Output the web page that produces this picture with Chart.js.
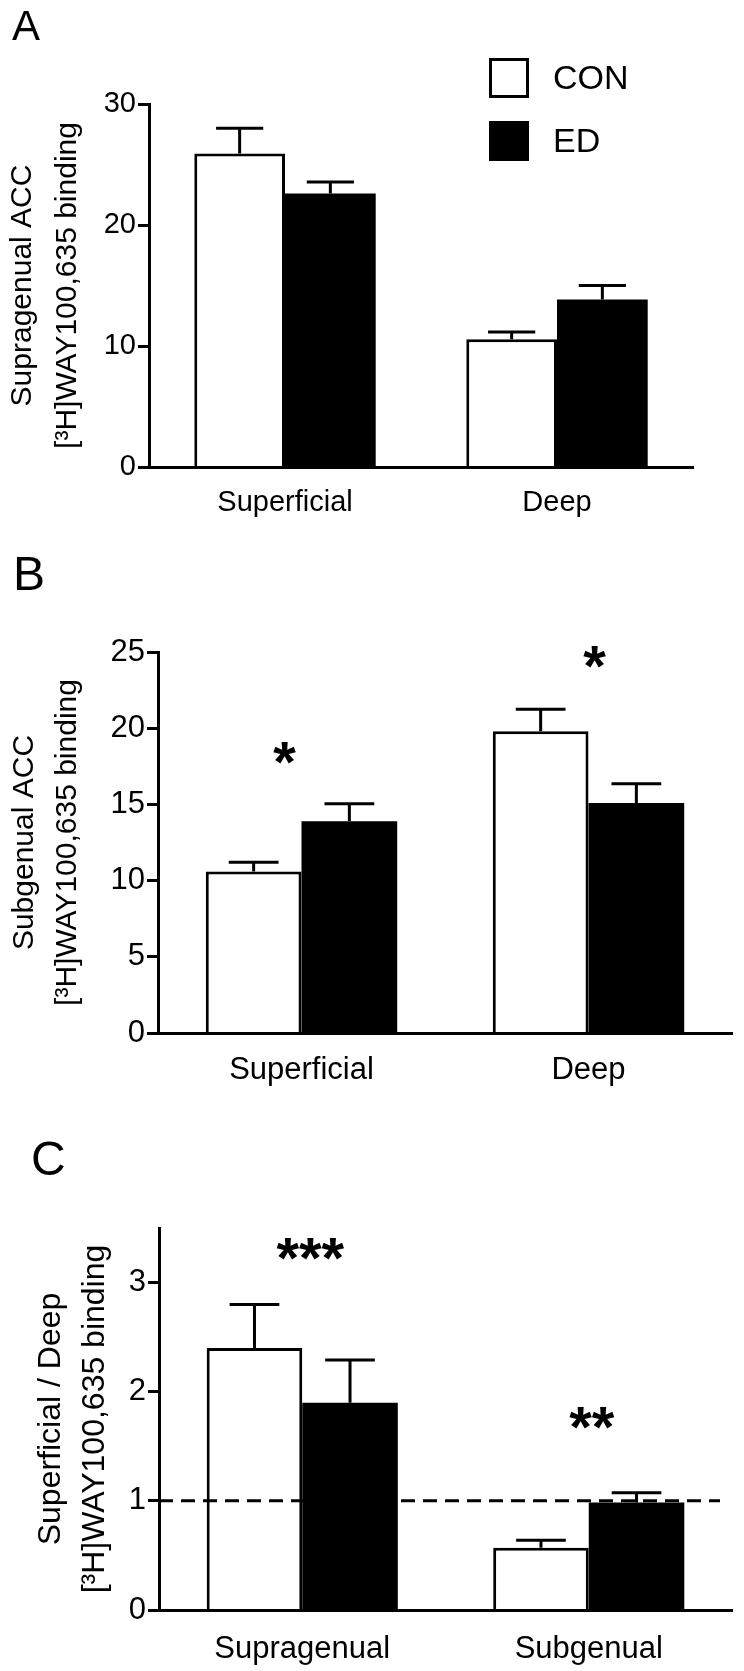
<!DOCTYPE html>
<html>
<head>
<meta charset="utf-8">
<script src="https://cdn.jsdelivr.net/npm/chart.js@4.4.1/dist/chart.umd.min.js"></script>
<style>
  body { margin: 0; background: #ffffff; }
  canvas.panel { position: absolute; left: 0; }
</style>
</head>
<body>
<canvas id="chartA" class="panel" width="744" height="540" style="top:0px"></canvas>
<canvas id="chartB" class="panel" width="744" height="560" style="top:540px"></canvas>
<canvas id="chartC" class="panel" width="744" height="571" style="top:1100px"></canvas>
<script>
var seriesNames = ["CON", "ED"];
var layers = ["Superficial", "Deep"];
var regions = ["Supragenual", "Subgenual"];

// A: supragenual ACC
var conA = [25.9, 10.55];
var conErrA = [2.1, 0.6];
var edA = [22.6, 13.85];
var edErrA = [0.95, 1.15];
var yTicksA = [0, 10, 20, 30];

// B: subgenual ACC
var conB = [10.6, 19.8];
var conErrB = [0.6, 1.45];
var edB = [13.9, 15.1];
var edErrB = [1.15, 1.25];
var yTicksB = [0, 5, 10, 15, 20, 25];
var starsB = ["*", "*"];
var starLevelB = [18.4, 24.7];

// C: superficial / deep ratio
var conC = [2.4, 0.57];
var conErrC = [0.4, 0.07];
var edC = [1.9, 0.985];
var edErrC = [0.39, 0.09];
var yTicksC = [0, 1, 2, 3];
var starsC = ["***", "**"];
var starLevelC = [3.31, 1.76];
var refLineC = 1;

var fontFamily = "'Liberation Sans', Arial, Helvetica, sans-serif";
Chart.defaults.font.family = fontFamily;
Chart.defaults.color = "#000000";

// error bars (upper only), drawn from the bar tops through the y scale
var errorBars = {
  id: "errorBars",
  afterDatasetsDraw: function (chart) {
    var ctx = chart.ctx, y = chart.scales.y;
    ctx.save();
    ctx.strokeStyle = "#000000";
    ctx.lineWidth = 3;
    chart.data.datasets.forEach(function (ds, i) {
      chart.getDatasetMeta(i).data.forEach(function (bar, j) {
        var top = y.getPixelForValue(ds.data[j] + ds.errors[j]);
        var half = bar.width * 0.26;
        ctx.beginPath();
        ctx.moveTo(bar.x, bar.y);
        ctx.lineTo(bar.x, top);
        ctx.moveTo(bar.x - half, top);
        ctx.lineTo(bar.x + half, top);
        ctx.stroke();
      });
    });
    ctx.restore();
  }
};

// dashed reference line, significance stars, panel letter, legend
var extras = {
  id: "extras",
  afterDraw: function (chart, args, opts) {
    var ctx = chart.ctx, x = chart.scales.x, y = chart.scales.y, area = chart.chartArea;
    ctx.save();
    if (opts.refLine !== undefined) {
      var ry = y.getPixelForValue(opts.refLine);
      ctx.strokeStyle = "#000000";
      ctx.lineWidth = 3;
      ctx.setLineDash([14, 8]);
      ctx.beginPath();
      ctx.moveTo(area.left, ry);
      ctx.lineTo(area.right - 12, ry);
      ctx.stroke();
      ctx.setLineDash([]);
    }
    if (opts.stars) {
      ctx.fillStyle = "#000000";
      ctx.font = "bold 58px " + fontFamily;
      ctx.textAlign = "center";
      ctx.textBaseline = "alphabetic";
      opts.stars.forEach(function (s, i) {
        var m = ctx.measureText(s);
        var cy = y.getPixelForValue(opts.levels[i]);
        var cx = x.getPixelForValue(i) + opts.shift[i];
        ctx.fillText(s, cx, cy + (m.actualBoundingBoxAscent - m.actualBoundingBoxDescent) / 2);
      });
    }
    if (opts.letter) {
      ctx.fillStyle = "#000000";
      ctx.textAlign = "left";
      ctx.textBaseline = "alphabetic";
      ctx.font = opts.letter.size + "px " + fontFamily;
      ctx.fillText(opts.letter.text, opts.letter.x, opts.letter.y);
    }
    if (opts.legend) {
      var lg = opts.legend;
      ctx.font = lg.size + "px " + fontFamily;
      ctx.textAlign = "left";
      ctx.textBaseline = "middle";
      chart.data.datasets.forEach(function (ds, i) {
        var top = lg.top + i * lg.step;
        ctx.fillStyle = ds.backgroundColor;
        ctx.fillRect(lg.left, top, lg.box, lg.box);
        ctx.strokeStyle = ds.borderColor;
        ctx.lineWidth = 3;
        ctx.strokeRect(lg.left + 1.5, top + 1.5, lg.box - 3, lg.box - 3);
        ctx.fillStyle = "#000000";
        ctx.fillText(ds.label, lg.left + lg.box + lg.gap, top + lg.box / 2 + 2);
      });
    }
    ctx.restore();
  }
};

function buildPanel(id, p) {
  return new Chart(document.getElementById(id), {
    type: "bar",
    data: {
      labels: p.labels,
      datasets: [
        { label: seriesNames[0], data: p.con, errors: p.conErr, backgroundColor: "#ffffff", borderColor: "#000000", borderWidth: 3 },
        { label: seriesNames[1], data: p.ed, errors: p.edErr, backgroundColor: "#000000", borderColor: "#000000", borderWidth: 0 }
      ]
    },
    options: {
      responsive: false,
      animation: false,
      devicePixelRatio: 1,
      categoryPercentage: 0.667,
      barPercentage: 1.0,
      layout: { padding: p.padding },
      plugins: {
        legend: { display: false },
        tooltip: { enabled: false },
        extras: p.extras
      },
      scales: {
        x: {
          grid: { display: false },
          border: { display: true, color: "#000000", width: 3, z: 1 },
          ticks: { font: { size: p.xFont }, padding: p.xPad, color: "#000000" },
          afterFit: function (scale) { scale.height = p.xHeight; }
        },
        y: {
          min: 0,
          max: p.max,
          grid: { display: true, drawOnChartArea: false, drawTicks: true, tickLength: 11, tickWidth: 3, tickColor: "#000000" },
          border: { display: true, color: "#000000", width: 3, z: 1 },
          ticks: { font: { size: p.yFont }, padding: 2, color: "#000000" },
          afterBuildTicks: function (scale) {
            scale.ticks = p.ticks.map(function (v) { return { value: v }; });
          },
          title: {
            display: true,
            text: p.title,
            color: "#000000",
            font: { size: p.titleSize, lineHeight: p.titleLine },
            padding: { top: p.titlePad, bottom: 0 }
          },
          afterFit: function (scale) { scale.width = p.yWidth; }
        }
      }
    },
    plugins: [errorBars, extras]
  });
}

var chartA = buildPanel("chartA", {
  labels: layers, con: conA, conErr: conErrA, ed: edA, edErr: edErrA,
  max: 30, ticks: yTicksA,
  title: ["Supragenual ACC", "[\u00b3H]WAY100,635 binding"],
  titleSize: 30, titleLine: 1.5, titlePad: 0,
  padding: { left: 0, right: 51, top: 104, bottom: 0 },
  yWidth: 149, xHeight: 73, xFont: 29, xPad: 11, yFont: 29,
  extras: {
    letter: { text: "A", x: 12, y: 40, size: 42 },
    legend: { left: 489, top: 58, box: 40, step: 63, gap: 24, size: 34 }
  }
});

var chartB = buildPanel("chartB", {
  labels: layers, con: conB, conErr: conErrB, ed: edB, edErr: edErrB,
  max: 25, ticks: yTicksB,
  title: ["Subgenual ACC", "[\u00b3H]WAY100,635 binding"],
  titleSize: 30, titleLine: 1.43, titlePad: 3,
  padding: { left: 0, right: 12, top: 112, bottom: 0 },
  yWidth: 158, xHeight: 67, xFont: 31, xPad: 11, yFont: 31,
  extras: {
    letter: { text: "B", x: 13, y: 50, size: 48 },
    stars: starsB, levels: starLevelB, shift: [-17, 6]
  }
});

var chartC = buildPanel("chartC", {
  labels: regions, con: conC, conErr: conErrC, ed: edC, edErr: edErrC,
  max: 3.5, ticks: yTicksC,
  title: ["Superficial / Deep", "[\u00b3H]WAY100,635 binding"],
  titleSize: 32, titleLine: 1.375, titlePad: 29,
  padding: { left: 0, right: 12, top: 128, bottom: 0 },
  yWidth: 159, xHeight: 61, xFont: 31, xPad: 13, yFont: 31,
  extras: {
    letter: { text: "C", x: 31, y: 75, size: 48 },
    stars: starsC, levels: starLevelC, refLine: refLineC, shift: [8, 3]
  }
});
</script>
</body>
</html>
